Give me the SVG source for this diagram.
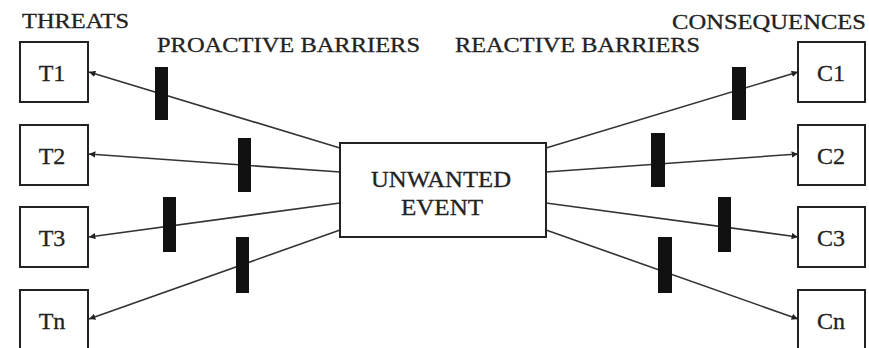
<svg xmlns="http://www.w3.org/2000/svg" width="869" height="348" viewBox="0 0 869 348">
<style>
.box{fill:#fff;stroke:#222;stroke-width:2}
.lbl{font-family:"Liberation Serif","Times New Roman",serif;font-size:24px;fill:#222;stroke:#222;stroke-width:0.3;text-anchor:middle}
.hdr{font-family:"Liberation Serif","Times New Roman",serif;font-size:21px;fill:#222;stroke:#222;stroke-width:0.3}
.ln{stroke:#333;stroke-width:1.6;fill:none;marker-end:url(#ah)}
.bar{fill:#111}
</style>
<defs>
<marker id="ah" viewBox="0 0 6 6" refX="6" refY="3" markerWidth="4" markerHeight="4" orient="auto" markerUnits="strokeWidth">
<path d="M0,0 L6,3 L0,6 z" fill="#222"/>
</marker>
</defs>
<rect width="869" height="348" fill="#fff"/>
<text class="hdr" x="22" y="28" textLength="107" lengthAdjust="spacingAndGlyphs">THREATS</text>
<text class="hdr" x="157" y="52" textLength="263" lengthAdjust="spacingAndGlyphs">PROACTIVE BARRIERS</text>
<text class="hdr" x="455" y="52" textLength="245" lengthAdjust="spacingAndGlyphs">REACTIVE BARRIERS</text>
<text class="hdr" x="672" y="29" textLength="194" lengthAdjust="spacingAndGlyphs">CONSEQUENCES</text>
<g id="connectors">
<line class="ln" x1="340" y1="148" x2="89" y2="72"/>
<line class="ln" x1="340" y1="172" x2="89" y2="154"/>
<line class="ln" x1="340" y1="203" x2="89" y2="237"/>
<line class="ln" x1="340" y1="230" x2="89" y2="319"/>
<line class="ln" x1="546" y1="148" x2="798" y2="72"/>
<line class="ln" x1="546" y1="172" x2="798" y2="154"/>
<line class="ln" x1="546" y1="203" x2="798" y2="237"/>
<line class="ln" x1="546" y1="230" x2="798" y2="319"/>
</g>
<g id="barriers">
<rect class="bar" x="155" y="67" width="13" height="53"/>
<rect class="bar" x="238" y="138" width="13" height="54"/>
<rect class="bar" x="163" y="197" width="13" height="55"/>
<rect class="bar" x="236" y="237" width="13" height="56"/>
<rect class="bar" x="732" y="67" width="14" height="53"/>
<rect class="bar" x="651" y="133" width="14" height="54"/>
<rect class="bar" x="718" y="197" width="13" height="55"/>
<rect class="bar" x="658" y="237" width="14" height="56"/>
</g>
<g id="T1"><rect class="box" x="20" y="42" width="68" height="60"/><text class="lbl" x="52" y="81">T1</text></g>
<g id="T2"><rect class="box" x="20" y="125" width="68" height="60"/><text class="lbl" x="52" y="164">T2</text></g>
<g id="T3"><rect class="box" x="20" y="207" width="68" height="60"/><text class="lbl" x="52" y="246">T3</text></g>
<g id="Tn"><rect class="box" x="20" y="290" width="68" height="60"/><text class="lbl" x="52" y="329">Tn</text></g>
<g id="C1"><rect class="box" x="798" y="42" width="67" height="60"/><text class="lbl" x="831" y="81">C1</text></g>
<g id="C2"><rect class="box" x="798" y="125" width="67" height="60"/><text class="lbl" x="831" y="164">C2</text></g>
<g id="C3"><rect class="box" x="798" y="207" width="67" height="60"/><text class="lbl" x="831" y="246">C3</text></g>
<g id="Cn"><rect class="box" x="798" y="290" width="67" height="60"/><text class="lbl" x="831" y="329">Cn</text></g>
<g id="event"><rect class="box" x="340" y="143" width="206" height="94"/>
<text class="lbl" x="441" y="187" textLength="140" lengthAdjust="spacingAndGlyphs">UNWANTED</text>
<text class="lbl" x="442" y="215" textLength="82" lengthAdjust="spacingAndGlyphs">EVENT</text></g>
</svg>
